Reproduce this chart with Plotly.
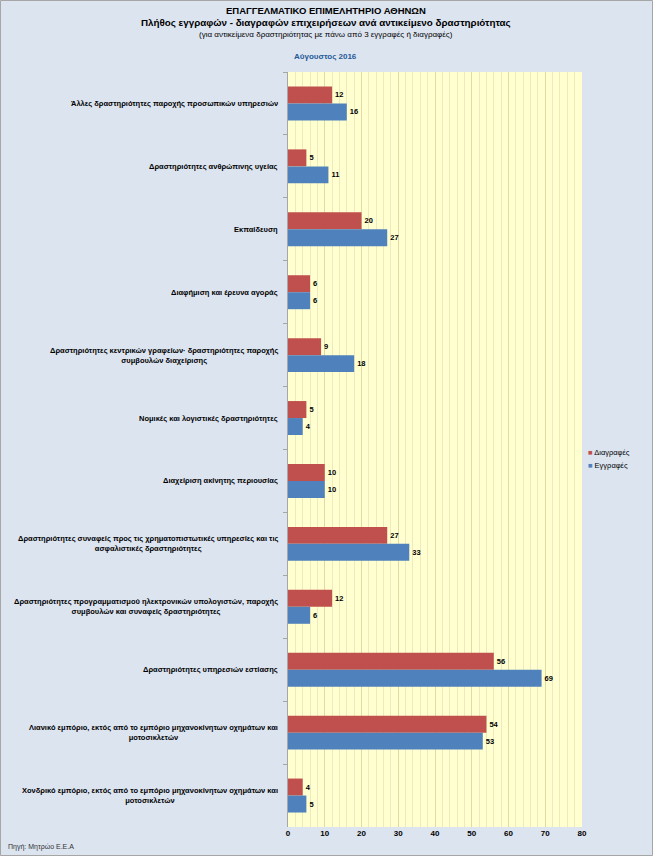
import plotly.graph_objects as go

categories = [
    "Άλλες δραστηριότητες παροχής προσωπικών υπηρεσιών",
    "Δραστηριότητες ανθρώπινης υγείας",
    "Εκπαίδευση",
    "Διαφήμιση και έρευνα αγοράς",
    "Δραστηριότητες κεντρικών γραφείων· δραστηριότητες παροχής<br>συμβουλών διαχείρισης",
    "Νομικές και λογιστικές δραστηριότητες",
    "Διαχείριση ακίνητης περιουσίας",
    "Δραστηριότητες συναφείς προς τις χρηματοπιστωτικές υπηρεσίες και τις<br>ασφαλιστικές δραστηριότητες",
    "Δραστηριότητες προγραμματισμού ηλεκτρονικών υπολογιστών, παροχής<br>συμβουλών και συναφείς δραστηριότητες",
    "Δραστηριότητες υπηρεσιών εστίασης",
    "Λιανικό εμπόριο, εκτός από το εμπόριο μηχανοκίνητων οχημάτων και<br>μοτοσικλετών",
    "Χονδρικό εμπόριο, εκτός από το εμπόριο μηχανοκίνητων οχημάτων και<br>μοτοσικλετών",
]
diagrafes = [12, 5, 20, 6, 9, 5, 10, 27, 12, 56, 54, 4]
eggrafes = [16, 11, 27, 6, 18, 4, 10, 33, 6, 69, 53, 5]
x_ticks = [0, 10, 20, 30, 40, 50, 60, 70, 80]
series_names = ["Διαγραφές", "Εγγραφές"]
series_colors = ["#c0504d", "#4f81bd"]

FONT = "Liberation Sans"

fig = go.Figure()
for name, vals, col in zip(series_names, [diagrafes, eggrafes], series_colors):
    fig.add_trace(go.Bar(
        y=categories, x=vals, name=name, orientation="h",
        marker=dict(color=col, line=dict(width=0)),
        text=vals, textposition="outside", cliponaxis=False,
        textfont=dict(family=FONT, size=7.5, color="#000000", weight="bold"),
        showlegend=False,
    ))

annotations = []
for c in categories:
    annotations.append(dict(
        x=-0.027, xref="paper", y=c, yref="y", text=c, showarrow=False,
        xanchor="right", yanchor="middle", align="center",
        font=dict(family=FONT, size=7.5, color="#000000", weight="bold"),
    ))

titles = [
    ("ΕΠΑΓΓΕΛΜΑΤΙΚΟ ΕΠΙΜΕΛΗΤΗΡΙΟ ΑΘΗΝΩΝ", 1.0808, 9.5, "bold", "#000000"),
    ("Πλήθος εγγραφών - διαγραφών επιχειρήσεων ανά αντικείμενο δραστηριότητας", 1.0662, 9.8, "bold", "#000000"),
    ("(για αντικείμενα δραστηριότητας με πάνω από 3 εγγραφές ή διαγραφές)", 1.0503, 8, "normal", "#000000"),
    ("Αύγουστος 2016", 1.0210, 8, "bold", "#1f5a96"),
]
for t, yy, sz, w, col in titles:
    annotations.append(dict(
        x=0.129, xref="paper", y=yy, yref="paper", text=t, showarrow=False,
        xanchor="center", yanchor="middle",
        font=dict(family=FONT, size=sz, color=col, weight=w),
    ))
annotations.append(dict(
    x=-0.959, xref="paper", y=-0.0265, yref="paper", text="Πηγή: Μητρώο Ε.Ε.Α",
    showarrow=False, xanchor="left", yanchor="middle",
    font=dict(family=FONT, size=7, color="#333333"),
))
# manual legend
for i, (name, col) in enumerate(zip(series_names, series_colors)):
    annotations.append(dict(
        x=1.012, xref="paper", y=0.4965 - i * 0.0175, yref="paper",
        text=f'<span style="color:{col}">■</span> {name}', showarrow=False,
        xanchor="left", yanchor="middle",
        font=dict(family=FONT, size=7.5, color="#000000"),
    ))

fig.update_layout(
    width=653, height=856,
    margin=dict(l=288, r=71, t=72, b=29, autoexpand=False),
    paper_bgcolor="#dce4f0",
    plot_bgcolor="#ffffd0",
    barmode="group",
    bargap=0.46,
    bargroupgap=0,
    showlegend=False,
    font=dict(family=FONT),
    annotations=annotations,
    shapes=[dict(
        type="rect", xref="paper", yref="paper",
        x0=-287.5 / 294, x1=(652.5 - 288) / 294,
        y0=-28.5 / 755, y1=(755 + 71.5) / 755,
        line=dict(color="#a6a6a6", width=1), fillcolor="rgba(0,0,0,0)",
        layer="below",
    )],
)
fig.update_xaxes(
    range=[0, 80], tickvals=x_ticks, ticks="",
    tickfont=dict(family=FONT, size=8, color="#000000", weight="bold"),
    showgrid=True, gridcolor="#e0daa6", gridwidth=1,
    minor=dict(dtick=2, showgrid=True, gridcolor="#eee9bf", gridwidth=1),
    zeroline=False, showline=False,
)
fig.update_yaxes(
    autorange="reversed", showticklabels=False,
    ticks="outside", tickson="boundaries", ticklen=4, tickcolor="#a6a6a6",
    showline=True, linecolor="#a6a6a6", linewidth=1,
    showgrid=False, zeroline=False,
)

fig.write_html(
    "out.html",
    config={"displayModeBar": False},
    post_script="document.body.style.margin='0';document.body.style.overflow='hidden';",
)
